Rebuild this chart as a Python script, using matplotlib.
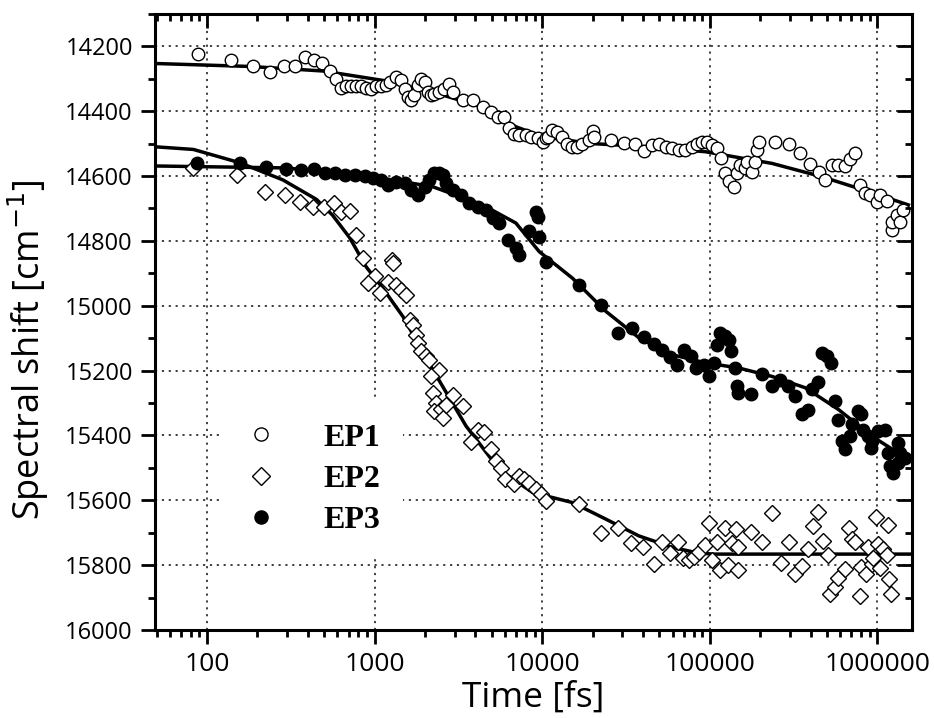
import matplotlib
matplotlib.use("Agg")
import matplotlib.pyplot as plt
from matplotlib.ticker import LogLocator, MultipleLocator, NullFormatter, FixedLocator

plt.rcParams['font.family'] = ['Open Sans', 'DejaVu Sans']

# EP1 (open circles)
ep1_t = [89, 139, 189, 239, 287, 337, 387, 435, 488, 540, 592, 634, 678, 726, 778, 833,
         892, 955, 1023, 1096, 1173, 1228, 1346, 1442, 1510, 1580, 1653, 1730, 1811, 1897,
         1986, 2077, 2175, 2276, 2438, 2612, 2794, 2926, 3357, 3849, 4413, 4952, 5425, 5945,
         6370, 6814, 7300, 8000, 8570, 9380, 10050, 10530, 10760, 11520, 12330, 13210, 14150,
         15160, 16240, 17390, 19060, 20230, 20430, 25660, 30790, 35810, 40490, 45410, 49740,
         54500, 59700, 65400, 71600, 78500, 84000, 90000, 96400, 103000, 110600, 117400,
         124000, 129800, 139000, 145500, 152400, 163200, 167000, 178700, 187200, 191600,
         196000, 246000, 295000, 346500, 398000, 446000, 488500, 535000, 586000, 637000,
         688000, 736000, 789000, 846000, 906000, 993000, 1038000, 1137000, 1219000, 1219000,
         1306000, 1365000, 1429000]
ep1_s = [14225, 14243, 14261, 14279, 14261, 14261, 14233, 14243, 14250, 14276, 14302, 14327,
         14323, 14323, 14323, 14323, 14327, 14330, 14323, 14323, 14320, 14310, 14294, 14305,
         14330, 14356, 14366, 14351, 14320, 14300, 14310, 14341, 14351, 14346, 14341, 14330,
         14315, 14341, 14366, 14366, 14387, 14402, 14418, 14418, 14453, 14469, 14474, 14474,
         14479, 14484, 14494, 14484, 14479, 14458, 14464, 14479, 14500, 14510, 14510, 14500,
         14489, 14461, 14479, 14489, 14497, 14502, 14523, 14505, 14502, 14510, 14515, 14520,
         14520, 14510, 14500, 14494, 14494, 14505, 14515, 14543, 14592, 14614, 14633, 14592,
         14566, 14576, 14556, 14587, 14556, 14520, 14494, 14494, 14502, 14528, 14563, 14587,
         14612, 14566, 14566, 14569, 14546, 14530, 14628, 14653, 14657, 14679, 14658, 14677,
         14766, 14741, 14720, 14741, 14705]

# EP2 (open diamonds)
ep2_t = [82, 152, 221, 291, 361, 430, 497, 570, 634, 710, 778, 850, 1274, 1286, 1000, 912,
         1200, 1072, 1346, 1442, 1545, 1616, 1691, 1755, 1811, 1897, 2030, 2125, 2438, 2175,
         2223, 2328, 2276, 2495, 2552, 2672, 2951, 3357, 3765, 4119, 4520, 4952, 5310, 5680,
         6030, 6814, 7300, 7810, 8380, 9170, 9820, 10530, 16600, 22300, 28300, 34000, 40100,
         46400, 52000, 58300, 64800, 69200, 75300, 80600, 86300, 94200, 99600, 103000, 110600,
         115800, 123000, 128900, 135000, 142500, 147600, 147600, 176000, 206000, 235000,
         267000, 295000, 323000, 354500, 385000, 411000, 441500, 471000, 507000, 524000,
         557000, 586000, 637000, 673000, 703000, 736000, 789000, 800000, 854000, 879000,
         925000, 946000, 978000, 1006000, 1038000, 1085000, 1137000, 1153000, 1175000, 1209000]
ep2_s = [14576, 14597, 14648, 14658, 14679, 14694, 14694, 14684, 14710, 14708, 14782, 14853,
         14858, 14869, 14908, 14930, 14928, 14961, 14935, 14951, 14966, 15043, 15058, 15089,
         15115, 15141, 15156, 15166, 15197, 15218, 15269, 15300, 15325, 15320, 15346, 15305,
         15274, 15308, 15421, 15382, 15390, 15441, 15479, 15499, 15535, 15551, 15525, 15535,
         15546, 15566, 15581, 15602, 15612, 15701, 15687, 15732, 15745, 15797, 15728, 15763,
         15730, 15779, 15784, 15774, 15759, 15738, 15669, 15784, 15728, 15814, 15684, 15800,
         15732, 15689, 15745, 15814, 15699, 15728, 15640, 15794, 15728, 15828, 15802, 15751,
         15680, 15636, 15725, 15769, 15889, 15869, 15841, 15812, 15684, 15720, 15728, 15894,
         15807, 15828, 15745, 15797, 15777, 15653, 15735, 15810, 15751, 15769, 15677, 15843,
         15889]

# EP3 (filled circles)
ep3_t = [87, 157, 226, 295, 366, 434, 504, 578, 663, 760, 872, 977, 1096, 1200, 1346, 1510,
         1653, 1811, 1986, 2125, 2276, 2438, 2552, 2672, 2926, 3280, 3675, 4119, 4620, 5060,
         5550, 6220, 6970, 7300, 8380, 9170, 9380, 9600, 10530, 16600, 22300, 28300, 34400,
         40500, 46400, 52000, 58300, 63900, 70000, 76800, 82300, 92100, 98600, 105700, 110600,
         115800, 124000, 131000, 134600, 140900, 145500, 147600, 175400, 205000, 235000,
         263500, 292500, 323300, 354500, 385000, 406500, 441500, 466300, 499700, 530000,
         560000, 586000, 614000, 643000, 688000, 703000, 764000, 800000, 826000, 884000,
         925000, 917000, 1014000, 1112000, 1164000, 1191000, 1245000, 1321000, 1365000,
         1462000, 1333000]
ep3_s = [14559, 14561, 14571, 14579, 14582, 14579, 14590, 14592, 14597, 14597, 14600, 14607,
         14612, 14628, 14617, 14622, 14643, 14658, 14633, 14612, 14592, 14592, 14597, 14622,
         14643, 14658, 14684, 14694, 14705, 14730, 14745, 14797, 14822, 14843, 14771, 14710,
         14725, 14787, 14864, 14935, 14997, 15084, 15069, 15096, 15117, 15135, 15158, 15182,
         15135, 15156, 15192, 15182, 15218, 15176, 15120, 15084, 15094, 15105, 15141, 15192,
         15248, 15269, 15271, 15212, 15246, 15228, 15246, 15277, 15333, 15322, 15256, 15236,
         15146, 15156, 15176, 15294, 15351, 15417, 15441, 15402, 15366, 15325, 15335, 15382,
         15402, 15417, 15438, 15387, 15382, 15453, 15494, 15515, 15423, 15453, 15469, 15484]

# fitted curves
fit1_t = [50, 180, 492, 1120, 2223, 4413, 6970, 10050, 19950, 37800, 94200, 235000, 466000,
          925000, 1530000]
fit1_s = [14253, 14262, 14276, 14305, 14341, 14387, 14448, 14479, 14500, 14508, 14525, 14561,
          14602, 14651, 14689]
fit2_t = [50, 83, 157, 284, 450, 560, 710, 891, 1120, 1475, 2223, 3514, 5550, 8760, 15160,
          23950, 37800, 59700, 82300, 103000, 1550000]
fit2_s = [14510, 14518, 14559, 14612, 14672, 14720, 14790, 14880, 14946, 15033, 15197, 15371,
          15505, 15576, 15607, 15658, 15710, 15745, 15761, 15766, 15766]
fit3_t = [50, 300, 1120, 2223, 4413, 6970, 9600, 15160, 23950, 37800, 59700, 94200, 149000,
          235000, 371500, 586000, 925000, 1530000]
fit3_s = [14569, 14575, 14607, 14633, 14689, 14745, 14833, 14915, 15017, 15099, 15151, 15176,
          15192, 15218, 15253, 15320, 15402, 15474]

xlim = (49, 1.6e6)
ylim = (16000, 14100)
xmajor = [100, 1000, 10000, 100000, 1000000]
grid_style = dict(linestyle=(0, (1.2, 2.6)), color='#333333', lw=1.3)

fig = plt.figure(figsize=(9.34, 7.18), dpi=100)
ax = fig.add_axes([0.166, 0.1226, 0.81, 0.858])

ax.plot(fit1_t, fit1_s, color='black', lw=2.5, zorder=2)
ax.plot(fit2_t, fit2_s, color='black', lw=2.5, zorder=2)
ax.plot(fit3_t, fit3_s, color='black', lw=2.5, zorder=2)
ax.plot(ep1_t, ep1_s, 'o', ms=9, mfc='white', mec='black', mew=1.0, label='EP1', zorder=3)
ax.plot(ep2_t, ep2_s, 'D', ms=8.5, mfc='white', mec='black', mew=1.0, label='EP2', zorder=3)
ax.plot(ep3_t, ep3_s, 'o', ms=9, mfc='black', mec='black', mew=1.0, label='EP3', zorder=3)

ax.set_xscale('log')
ax.set_xlim(*xlim)
ax.set_ylim(*ylim)
ax.xaxis.set_major_locator(FixedLocator(xmajor))
ax.xaxis.set_major_formatter(plt.FuncFormatter(lambda v, p: '%d' % v))
ax.xaxis.set_minor_locator(LogLocator(base=10, subs=range(2, 10)))
ax.xaxis.set_minor_formatter(NullFormatter())
ax.yaxis.set_major_locator(MultipleLocator(200))
ax.yaxis.set_minor_locator(MultipleLocator(100))

ax.grid(True, which='major', **grid_style)
ax.tick_params(which='major', direction='out', length=10, width=2, pad=6)
ax.tick_params(which='minor', direction='out', length=5, width=2)
ax.tick_params(axis='x', labelsize=19)
ax.tick_params(axis='y', labelsize=17)
for s in ax.spines.values():
    s.set_linewidth(2.2)

# inward ticks on top and right
axt = ax.twiny()
axt.set_xscale('log')
axt.set_xlim(*xlim)
axt.xaxis.set_major_locator(FixedLocator(xmajor))
axt.xaxis.set_minor_locator(LogLocator(base=10, subs=range(2, 10)))
axt.tick_params(which='major', direction='in', length=10, width=2, labeltop=False)
axt.tick_params(which='minor', direction='in', length=5, width=2)
axr = ax.twinx()
axr.set_ylim(*ylim)
axr.yaxis.set_major_locator(MultipleLocator(200))
axr.yaxis.set_minor_locator(MultipleLocator(100))
axr.tick_params(which='major', direction='in', length=11, width=2, labelright=False)
axr.tick_params(which='minor', direction='in', length=5, width=2)

ax.set_xlabel('Time [fs]', fontsize=25.5)
ax.xaxis.set_label_coords(0.5, -0.083)
ax.set_ylabel('Spectral shift [cm$^{-1}$]', fontsize=26)
ax.yaxis.set_label_coords(-0.137, 0.455)

leg = ax.legend(loc='upper left', bbox_to_anchor=(0.0898, 0.372), frameon=True, fancybox=False,
                edgecolor='none', facecolor='white', framealpha=1,
                prop={'family': 'Liberation Serif', 'weight': 'bold', 'size': 23},
                handletextpad=1.45, labelspacing=0.37, borderpad=0.7, handlelength=1.0,
                borderaxespad=0, markerscale=1.05)
leg.set_zorder(5)

fig.savefig('out.png', dpi=100)
